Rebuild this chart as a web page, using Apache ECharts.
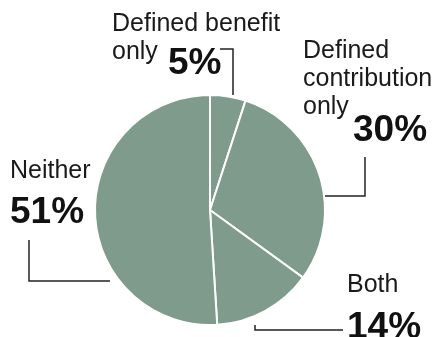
<!DOCTYPE html>
<html>
<head>
<meta charset="utf-8">
<script src="https://cdn.jsdelivr.net/npm/echarts@6/dist/echarts.min.js"></script>
<style>
  html, body { margin: 0; padding: 0; background: #fff; }
  #chart { width: 439px; height: 337px; }
</style>
</head>
<body>
<div id="chart"></div>
<script>
const categories = ['Defined benefit\nonly', 'Defined\ncontribution\nonly', 'Both', 'Neither'];
const shares = [5, 30, 14, 51];

// where each name / percentage label goes, and the elbow of its leader line
const nameSpots = [[112, 10], [303, 37], [347, 271], [10, 157]];
const pctSpots = [[168, 44], [353, 111], [347, 308], [10, 193]];
const leaderPoints = [
  [[233, 95], [233, 49], [220, 49]],
  [[325, 196], [365, 196], [365, 157]],
  [[255, 325], [255, 330], [343, 330]],
  [[110, 281], [29, 281], [29, 240]]
];

const pieData = categories.map((name, i) => ({ name: name, value: shares[i] }));

const chart = echarts.init(document.getElementById('chart'));
const options = {
  animation: false,
  series: [
    {
      type: 'pie',
      center: [210, 210],
      radius: 115,
      startAngle: 90,
      clockwise: true,
      color: ['#7e9b8c'],
      itemStyle: { borderColor: '#fff', borderWidth: 2 },
      label: {
        show: true,
        position: 'outside',
        formatter: '{b}',
        overflow: 'none',
        color: '#1a1a1a',
        fontFamily: 'Liberation Sans, Arial, sans-serif',
        fontSize: 25,
        lineHeight: 28
      },
      labelLine: { show: false },
      labelLayout: function (p) {
        return { x: nameSpots[p.dataIndex][0], y: nameSpots[p.dataIndex][1], align: 'left', verticalAlign: 'top' };
      },
      data: pieData
    },
    {
      type: 'pie',
      center: [210, 210],
      radius: 115,
      startAngle: 90,
      clockwise: true,
      silent: true,
      itemStyle: { color: 'rgba(0,0,0,0)', borderWidth: 0 },
      label: {
        show: true,
        position: 'outside',
        formatter: '{c}%',
        overflow: 'none',
        color: '#111',
        fontFamily: 'Liberation Sans, Arial, sans-serif',
        fontWeight: 'bold',
        fontSize: 37,
        lineHeight: 40
      },
      labelLine: { show: true, lineStyle: { color: '#222', width: 1.5 } },
      labelLayout: function (p) {
        return {
          x: pctSpots[p.dataIndex][0],
          y: pctSpots[p.dataIndex][1],
          align: 'left',
          verticalAlign: 'top',
          labelLinePoints: leaderPoints[p.dataIndex]
        };
      },
      data: pieData
    }
  ]
};
chart.setOption(options);
</script>
</body>
</html>
